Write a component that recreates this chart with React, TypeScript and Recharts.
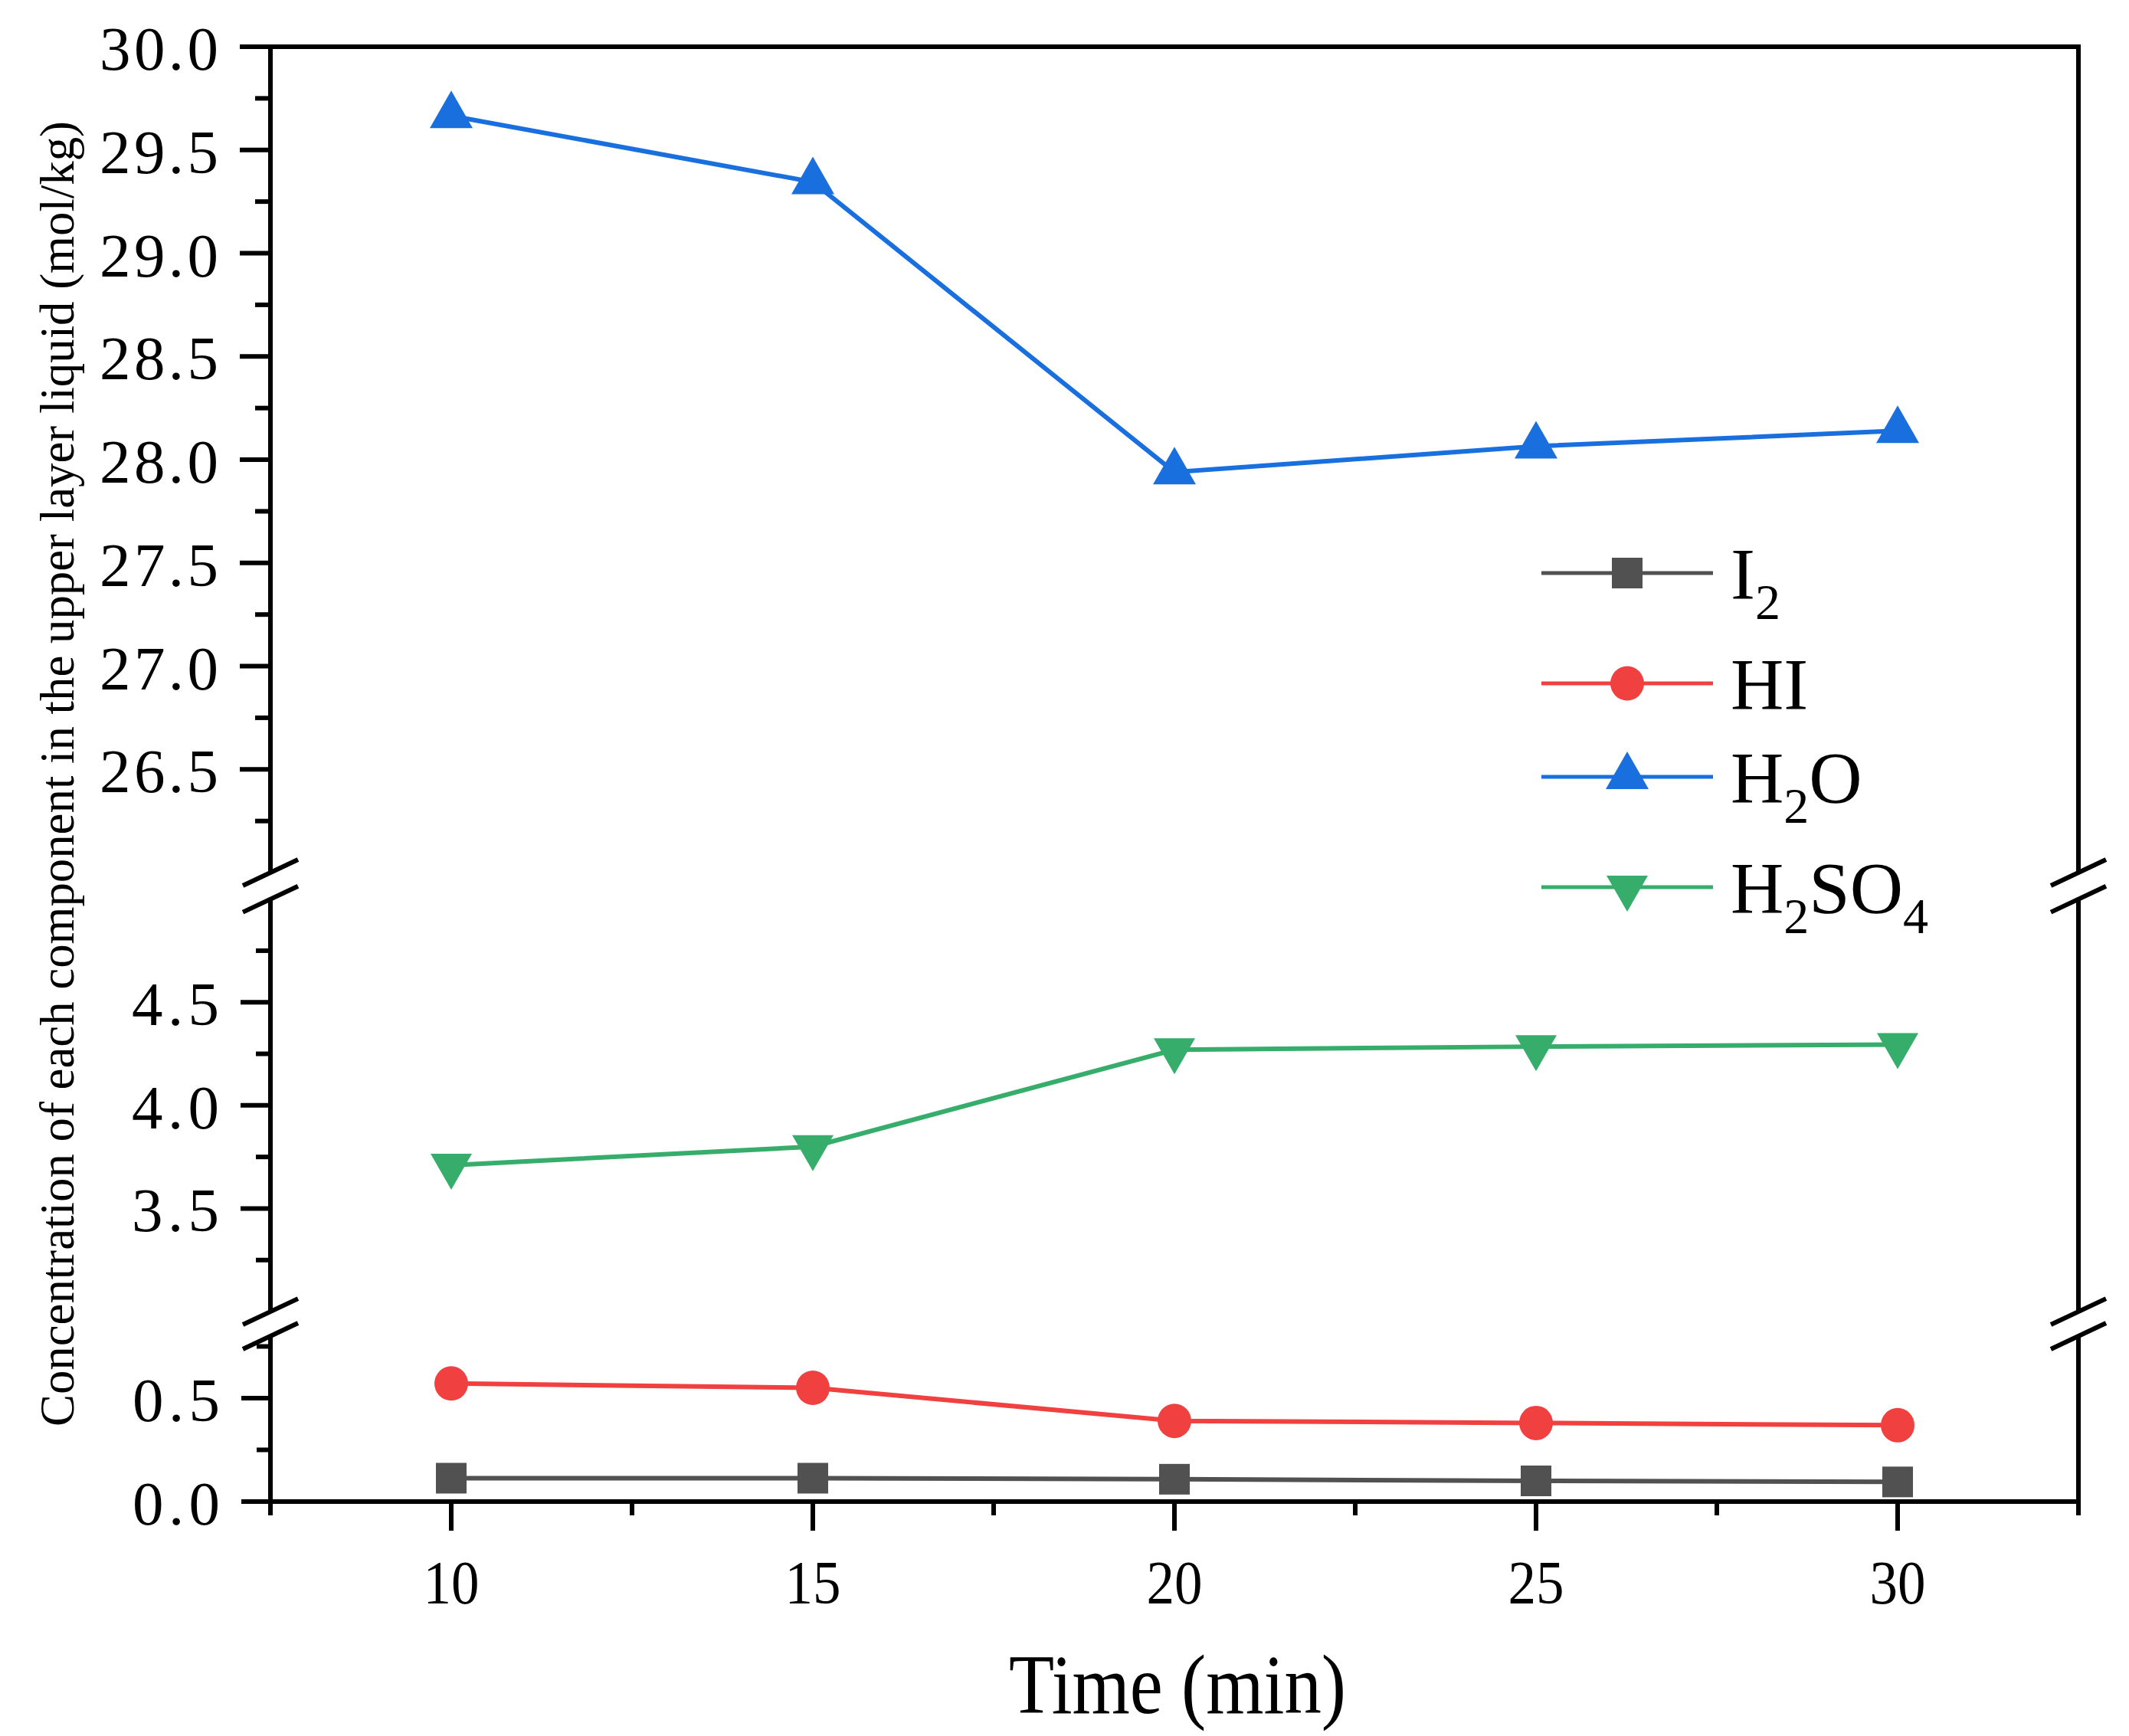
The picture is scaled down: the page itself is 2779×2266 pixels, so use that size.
import React from 'react';
import { LineChart, Line, XAxis, YAxis, ReferenceLine, Customized } from 'recharts';

const FONT = '"Liberation Serif", "Times New Roman", Times, serif';

// ---- data ----
const times = [10, 15, 20, 25, 30];
const i2Values = [0.113, 0.113, 0.108, 0.1, 0.095];
const hiValues = [0.571, 0.55, 0.39, 0.38, 0.369];
const h2oValues = [29.665, 29.345, 27.94, 28.065, 28.14];
const h2so4Values = [3.71, 3.8, 4.27, 4.285, 4.295];

const seriesNames = ['I2', 'HI', 'H2O', 'H2SO4'];
const seriesKeys = ['i2', 'hi', 'h2o', 'h2so4'];
const seriesColors = ['#515151', '#F14040', '#1A6FDF', '#37AD6B'];
const seriesMarkers = ['square', 'circle', 'triangle', 'triangleDown'];
const seriesAxes = ['bottom', 'bottom', 'top', 'middle'];

const xTicks = [7.5, 10, 12.5, 15, 17.5, 20, 22.5, 25, 27.5, 30, 32.5];
const topTicks = [26.25, 26.5, 26.75, 27, 27.25, 27.5, 27.75, 28, 28.25, 28.5, 28.75, 29, 29.25, 29.5, 29.75, 30];
const middleTicks = [3.25, 3.5, 3.75, 4, 4.25, 4.5, 4.75];
const bottomTicks = [0, 0.25, 0.5, 0.75];

const xTitle = 'Time (min)';
const yTitle = 'Concentration of each component in the upper layer liquid (mol/kg)';

const rows = times.map((t, i) => ({
  t,
  i2: i2Values[i],
  hi: hiValues[i],
  h2o: h2oValues[i],
  h2so4: h2so4Values[i],
}));

// ---- layout ----
const W = 2763;
const H = 2258;
const X_MIN = 7.5;
const X_MAX = 32.5;
const AXIS_W = 6;

const segments = [
  { id: 'top', lo: 26, hi: 30, domain: [22.954, 30], ticks: topTicks, dy: 0.063 },
  { id: 'middle', lo: 3, hi: 5, domain: [2.079, 9.133], ticks: middleTicks, dy: 0.063 },
  { id: 'bottom', lo: 0, hi: 0.8, domain: [0, 7.033], ticks: bottomTicks, dy: 0.063 },
];
const SLASH_DX = 0.381;

function Marker({ shape, cx, cy, color }: any) {
  if (shape === 'square') return <rect x={cx - 20} y={cy - 20} width={40} height={40} fill={color} />;
  if (shape === 'circle') return <ellipse cx={cx} cy={cy} rx={22} ry={22.5} fill={color} />;
  if (shape === 'triangle')
    return <polygon points={`${cx},${cy - 33} ${cx + 28},${cy + 16} ${cx - 28},${cy + 16}`} fill={color} />;
  return <polygon points={`${cx - 27},${cy - 15} ${cx + 27},${cy - 15} ${cx},${cy + 32}`} fill={color} />;
}

const YTick = (props: any) => {
  const { x, y, payload } = props;
  const v = payload.value as number;
  const major = Math.abs(v * 2 - Math.round(v * 2)) < 1e-6;
  const label = v.toFixed(1);
  return (
    <g>
      <line x1={x} x2={x - (major ? 38 : 18)} y1={y} y2={y} stroke="#000" strokeWidth={AXIS_W} />
      {major && (
        <text
          x={x - 66}
          y={y + 30}
          textAnchor="end"
          fontFamily={FONT}
          fontSize={81}
          fill="#000"
          textLength={label.length === 4 ? 155 : 114}
          lengthAdjust="spacing"
        >
          {label}
        </text>
      )}
    </g>
  );
};

const XTick = (props: any) => {
  const { x, y, payload } = props;
  const v = payload.value as number;
  const major = Math.abs(v / 5 - Math.round(v / 5)) < 1e-6;
  return (
    <g>
      <line x1={x} x2={x} y1={y} y2={y + (major ? 38 : 18)} stroke="#000" strokeWidth={AXIS_W} />
      {major && (
        <text
          x={x}
          y={y + 133}
          textAnchor="middle"
          fontFamily={FONT}
          fontSize={81}
          fill="#000"
          textLength={73}
          lengthAdjust="spacingAndGlyphs"
        >
          {String(v)}
        </text>
      )}
    </g>
  );
};

function renderName(name: string) {
  const parts: { s: string; sub: boolean }[] = [];
  for (const ch of name) {
    const sub = /[0-9]/.test(ch);
    const last = parts[parts.length - 1];
    if (last && last.sub === sub) last.s += ch;
    else parts.push({ s: ch, sub });
  }
  let shift = 0;
  return parts.map((p, i) => {
    const target = p.sub ? 26 : 0;
    const dy = target - shift;
    shift = target;
    return (
      <tspan key={i} dy={dy} fontSize={p.sub ? 66 : 96}>
        {p.s}
      </tspan>
    );
  });
}

const legendRows = [740, 884, 1006, 1150];

const Overlay = () => (
  <g>
    {seriesNames.map((name, i) => {
      const y = legendRows[i];
      return (
        <g key={name}>
          <line x1={2004} x2={2228} y1={y} y2={y} stroke={seriesColors[i]} strokeWidth={5} />
          <Marker shape={seriesMarkers[i]} cx={2116} cy={y} color={seriesColors[i]} />
          <text x={2251} y={y + 34} fontFamily={FONT} fill="#000">
            {renderName(name)}
          </text>
        </g>
      );
    })}
    <text
      x={1529}
      y={2228}
      textAnchor="middle"
      fontFamily={FONT}
      fontSize={110}
      fill="#000"
      textLength={440}
      lengthAdjust="spacingAndGlyphs"
    >
      {xTitle}
    </text>
    <text
      x={88}
      y={1002}
      transform="rotate(-90 88 1002)"
      textAnchor="middle"
      fontFamily={FONT}
      fontSize={64}
      fill="#000"
      textLength={1704}
      lengthAdjust="spacingAndGlyphs"
    >
      {yTitle}
    </text>
  </g>
);

export default function App() {
  return (
    <div style={{ width: W, height: H, background: '#fff' }}>
      <LineChart width={W} height={H} data={rows} margin={{ top: 53, right: 58, left: 342, bottom: 106 }}>
        <XAxis
          type="number"
          dataKey="t"
          domain={[X_MIN, X_MAX]}
          allowDataOverflow
          ticks={xTicks}
          interval={0}
          tickSize={0}
          tickMargin={0}
          tick={<XTick />}
          height={200}
          axisLine={{ stroke: '#000', strokeWidth: AXIS_W }}
          tickLine={false}
        />
        {segments.map((s) => (
          <YAxis
            key={s.id}
            yAxisId={s.id}
            type="number"
            domain={s.domain}
            allowDataOverflow
            ticks={s.ticks}
            interval={0}
            width={1}
            tickSize={0}
            tickMargin={0}
            tick={<YTick />}
            axisLine={false}
            tickLine={false}
          />
        ))}
        {segments.map((s) => (
          <ReferenceLine
            key={`l-${s.id}`}
            yAxisId={s.id}
            segment={[{ x: X_MIN, y: s.lo }, { x: X_MIN, y: s.hi }]}
            stroke="#000"
            strokeWidth={AXIS_W}
            ifOverflow="visible"
          />
        ))}
        {segments.map((s) => (
          <ReferenceLine
            key={`r-${s.id}`}
            yAxisId={s.id}
            segment={[{ x: X_MAX, y: s.lo }, { x: X_MAX, y: s.hi }]}
            stroke="#000"
            strokeWidth={AXIS_W}
            ifOverflow="visible"
          />
        ))}
        <ReferenceLine
          yAxisId="top"
          segment={[{ x: X_MIN, y: 30 }, { x: X_MAX, y: 30 }]}
          stroke="#000"
          strokeWidth={AXIS_W}
          strokeLinecap="square"
          ifOverflow="visible"
        />
        {segments.flatMap((s) => {
          const ends: number[] = [];
          if (s.id !== 'top') ends.push(s.hi);
          if (s.id !== 'bottom') ends.push(s.lo);
          return ends.flatMap((yv) =>
            [X_MIN, X_MAX].map((xv) => (
              <ReferenceLine
                key={`b-${s.id}-${yv}-${xv}`}
                yAxisId={s.id}
                segment={[
                  { x: xv - SLASH_DX, y: yv - s.dy },
                  { x: xv + SLASH_DX, y: yv + s.dy },
                ]}
                stroke="#000"
                strokeWidth={AXIS_W}
                ifOverflow="visible"
              />
            ))
          );
        })}
        {seriesKeys.map((k, i) => (
          <Line
            key={k}
            yAxisId={seriesAxes[i]}
            type="linear"
            dataKey={k}
            stroke={seriesColors[i]}
            strokeWidth={6}
            isAnimationActive={false}
            dot={(p: any) => (
              <Marker key={`${k}-${p.index}`} shape={seriesMarkers[i]} cx={p.cx} cy={p.cy} color={seriesColors[i]} />
            )}
            activeDot={false}
          />
        ))}
        <Customized component={Overlay} />
      </LineChart>
    </div>
  );
}
